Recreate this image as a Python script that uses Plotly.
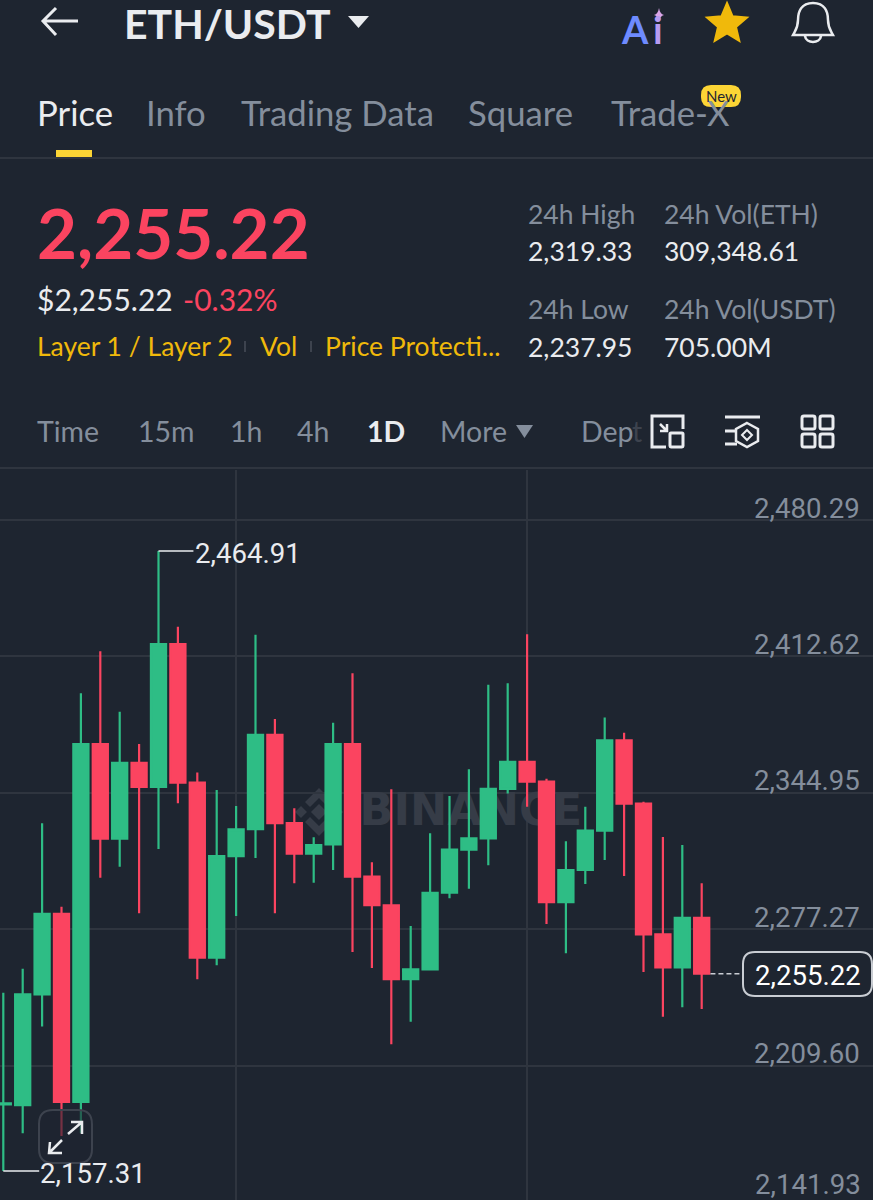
import re
import numpy as np
import plotly.graph_objects as go

W, H = 873, 1200
BG = "#1E2530"
GRID = "#2F353F"
UP = "#2EBD85"
DOWN = "#FB4460"
YELLOW = "#F0B90B"
MUTED = "#848E9C"
LIGHT = "#EAECEF"
UI_FONT = "Lato"
CHART_FONT = "Roboto"
CHART_SIZE = 27.6

# Data
days = list(range(37))
opens = [2190.4, 2190.0, 2245.0, 2284.9, 2191.6, 2369.2, 2322.2, 2359.8, 2347.9, 2418.7,
         2350.0, 2263.2, 2313.6, 2326.9, 2373.8, 2329.9, 2314.8, 2319.4, 2369.2, 2303.4,
         2289.2, 2252.6, 2257.4, 2295.4, 2316.8, 2322.4, 2346.9, 2360.4, 2350.5, 2290.8,
         2306.7, 2326.2, 2371.0, 2339.6, 2274.8, 2258.4, 2283.0]
highs = [2245.8, 2257.7, 2329.9, 2288.5, 2394.4, 2415.2, 2385.2, 2369.2, 2464.91, 2427.4,
         2355.0, 2346.4, 2338.4, 2423.4, 2381.6, 2337.3, 2322.9, 2379.8, 2404.3, 2310.5,
         2346.7, 2278.9, 2324.9, 2343.4, 2356.7, 2398.6, 2399.3, 2423.6, 2352.0, 2320.9,
         2338.1, 2382.4, 2374.8, 2340.6, 2323.1, 2319.1, 2300.1]
lows = [2157.31, 2176.1, 2229.0, 2174.7, 2176.2, 2302.9, 2308.3, 2285.2, 2317.1, 2339.8,
        2252.5, 2259.4, 2283.9, 2312.7, 2285.2, 2300.1, 2300.4, 2306.7, 2266.0, 2258.1,
        2220.2, 2231.4, 2257.0, 2292.7, 2297.4, 2309.0, 2344.7, 2338.1, 2279.9, 2265.4,
        2299.8, 2311.7, 2303.7, 2256.1, 2233.9, 2238.6, 2237.7]
closes = [2190.9, 2245.0, 2284.9, 2191.6, 2369.2, 2322.2, 2359.8, 2347.9, 2418.7, 2350.0,
          2263.2, 2313.6, 2326.9, 2373.8, 2329.9, 2314.8, 2319.1, 2369.2, 2303.4, 2289.2,
          2252.6, 2257.4, 2295.4, 2316.8, 2322.4, 2346.9, 2360.4, 2350.5, 2290.8, 2306.7,
          2326.2, 2371.0, 2339.6, 2274.8, 2258.4, 2283.0, 2255.22]
price_ticks = [2480.29, 2412.62, 2344.95, 2277.27, 2209.60]
bottom_tick = "2,141.93"
vgrid_days = [12, 27]
tabs = ["Price", "Info", "Trading Data", "Square", "Trade-X"]
tab_x = [36, 145, 240, 467, 610]
intervals = ["Time", "15m", "1h", "4h", "1D", "More", "Dep"]
interval_x = [36, 137, 229, 296, 366, 439, 580]

x_range = [-0.17, 44.83]
y_range = [2142.98, 2505.13]
y_domain = [0, 730 / H]


def pxpath(s):
    # turn a path written in screen pixels into paper coordinates
    out, is_x = [], True
    for tok in re.findall(r"[A-Za-z]|-?[\d.]+", s):
        if tok.isalpha():
            out.append(tok)
            is_x = True
        else:
            v = float(tok)
            out.append(f"{v / W:.5f}" if is_x else f"{1 - v / H:.5f}")
            is_x = not is_x
    return " ".join(out)


def rrect(x0, y0, x1, y1, r):
    return (f"M {x0 + r} {y0} L {x1 - r} {y0} Q {x1} {y0} {x1} {y0 + r} L {x1} {y1 - r} "
            f"Q {x1} {y1} {x1 - r} {y1} L {x0 + r} {y1} Q {x0} {y1} {x0} {y1 - r} "
            f"L {x0} {y0 + r} Q {x0} {y0} {x0 + r} {y0} Z")


shapes = []


def draw(s, line=None, width=2.5, fill=None, layer="above"):
    shapes.append(dict(type="path", xref="paper", yref="paper", path=pxpath(s), layer=layer,
                       fillcolor=fill or "rgba(0,0,0,0)",
                       line=dict(color=line or "rgba(0,0,0,0)", width=width if line else 0)))


annotations = []


def label(x, y, text, size=26.5, color=LIGHT, anchor="left", font=UI_FONT, weight="normal"):
    if font == UI_FONT:
        y -= 1
    annotations.append(dict(xref="paper", yref="paper", x=x / W, y=1 - y / H, text=text,
                            showarrow=False, xanchor=anchor, yanchor="middle", align=anchor,
                            borderpad=0,
                            font=dict(family=font, size=size, color=color, weight=weight)))


fig = go.Figure()

# watermark sits on the base axes so the candles cover it
fig.add_trace(go.Scatter(
    x=[24.1], y=[2334.5], mode="text", text=["BINANCE"], hoverinfo="skip", showlegend=False,
    textfont=dict(family="DejaVu Sans", size=44.5, color="#363C47", weight="bold"),
))

fig.add_trace(go.Candlestick(
    x=days, open=opens, high=highs, low=lows, close=closes,
    xaxis="x2", yaxis="y2", whiskerwidth=0, showlegend=False,
    increasing=dict(line=dict(color=UP, width=2.2), fillcolor=UP),
    decreasing=dict(line=dict(color=DOWN, width=2.2), fillcolor=DOWN),
))

# high / low leaders and last price guide
fig.add_trace(go.Scatter(x=[8, 9.8], y=[max(highs)] * 2, mode="lines", xaxis="x2", yaxis="y2",
                         line=dict(color=LIGHT, width=1.5), hoverinfo="skip", showlegend=False))
fig.add_trace(go.Scatter(x=[0, 1.85], y=[min(lows)] * 2, mode="lines", xaxis="x2", yaxis="y2",
                         line=dict(color=LIGHT, width=1.5), hoverinfo="skip", showlegend=False))
fig.add_trace(go.Scatter(x=[36.45, 38.2], y=[closes[-1]] * 2, mode="lines", xaxis="x2", yaxis="y2",
                         line=dict(color="#C9CDD3", width=1.5, dash="5px,3px"), hoverinfo="skip",
                         showlegend=False))

# header
draw("M 43 21 L 78 21 M 56 8 L 43 21 L 56 35", LIGHT, 3)
label(123, 24, "ETH/USDT", 41, LIGHT, weight="bold")
draw("M 348 16 L 369 16 L 358.5 28 Z", fill=LIGHT)
label(620, 30, "A", 38, "#6E8BFF", weight="bold")
label(652, 30, "i", 38, "#B79CF2", weight="bold")
draw("M 659 8 Q 660 14 664 15 Q 660 16 659 22 Q 658 16 654 15 Q 658 14 659 8 Z", fill="#D9A5E8")
star = []
for k in range(10):
    r = 21 if k % 2 == 0 else 9.5
    a = -np.pi / 2 + k * np.pi / 5
    star.append(f"{'M' if k == 0 else 'L'} {727 + r * np.cos(a):.1f} {24 + r * np.sin(a):.1f}")
draw(" ".join(star) + " Z", YELLOW, 2, fill=YELLOW)
draw("M 813 3 C 801 3 798 12 798 20 C 798 28 795 31 793 35 L 833 35 C 831 31 828 28 828 20 "
     "C 828 12 825 3 813 3 Z M 805 36 C 806 44 820 44 821 36", LIGHT, 2.5)

# tabs
for i, (name, x) in enumerate(zip(tabs, tab_x)):
    label(x, 113, name, 34.7, LIGHT if i == 0 else MUTED)
draw(rrect(701, 85, 741, 107, 10), fill="#FCD535")
label(721, 97, "New", 15, "#1E2530", anchor="center")
draw("M 56 150 L 92 150 L 92 157 L 56 157 Z", fill="#FCD535")
draw("M 0 158 L 873 158", GRID, 2)

# price block
label(36, 233, "2,255.22", 69, DOWN, weight="bold")
label(36, 300, "$2,255.22", 30, LIGHT)
label(182, 300, "-0.32%", 30, DOWN)
label(36, 347, "Layer 1 / Layer 2", 26.5, YELLOW)
label(259, 347, "Vol", 26.5, YELLOW)
label(324, 347, "Price Protecti...", 26.5, YELLOW)
draw("M 245 341 L 245 352 M 311 341 L 311 352", "#3D434E", 2)
for x, lines in [(527, ["24h High", "2,319.33", "24h Low", "2,237.95"]),
                 (663, ["24h Vol(ETH)", "309,348.61", "24h Vol(USDT)", "705.00M"])]:
    for j, (y, text) in enumerate(zip([215, 252, 310, 348], lines)):
        label(x, y, text, 26.5, MUTED if j % 2 == 0 else LIGHT)

# interval row
for name, x in zip(intervals, interval_x):
    label(x, 432, name, 28.5, LIGHT if name == "1D" else MUTED, weight="bold" if name == "1D" else "normal")
label(631, 432, "t", 28.5, "#3D434E")
draw("M 516 425 L 533 425 L 524.5 438 Z", fill=MUTED)
draw("M 666 447 L 652 447 L 652 416 L 683 416 L 683 429", LIGHT, 3)
draw(rrect(670, 433, 683, 447, 1), LIGHT, 3)
draw("M 660 424 L 667 431 M 667 424 L 667 431 L 660 431", LIGHT, 2.5)
draw("M 725 417 L 760 417 M 725 431 L 737 431 M 725 444 L 737 444", LIGHT, 3)
draw("M 747 423 L 758 429 L 758 441 L 747 447 L 736 441 L 736 429 Z", LIGHT, 2.5)
draw("M 747 430 L 752 435 L 747 440 L 742 435 Z", LIGHT, 2)
for x0 in (802, 820):
    for y0 in (416, 434):
        draw(rrect(x0, y0, x0 + 13, y0 + 13, 2), LIGHT, 3)
draw("M 0 468 L 873 468", GRID, 2)

# chart labels
label(194, 553, f"{max(highs):,.2f}", CHART_SIZE, LIGHT, font=CHART_FONT)
label(39, 1173, f"{min(lows):,.2f}", CHART_SIZE, LIGHT, font=CHART_FONT)
for p in price_ticks:
    annotations.append(dict(xref="paper", yref="y", x=861.5 / W, y=p, yshift=12, text=f"{p:,.2f}",
                            showarrow=False, xanchor="right", yanchor="middle",
                            font=dict(family=CHART_FONT, size=CHART_SIZE, color=MUTED)))
label(861.5, 1184, bottom_tick, CHART_SIZE, MUTED, anchor="right", font=CHART_FONT)

# last price box
draw(rrect(743, 952, 872, 996, 12), "#C9CDD3", 2, fill=BG)
label(808, 975, f"{closes[-1]:,.2f}", CHART_SIZE, "#FFFFFF", anchor="center", font=CHART_FONT)

# expand button
draw(rrect(39, 1110, 92, 1163, 14), "#3D434E", 2, fill="rgba(30,37,48,0.6)")
draw("M 68 1134 L 82 1122 M 71 1122 L 82 1122 L 82 1134 M 62 1140 L 49 1153 M 50 1142 L 49 1153 L 62 1153", LIGHT, 2.5)

# watermark logo
cx, cy = 319, 812
draw(f"M {cx - 14} {cy - 10} L {cx} {cy - 24} L {cx + 14} {cy - 10} L {cx + 9} {cy - 5} L {cx} {cy - 14} L {cx - 9} {cy - 5} Z "
     f"M {cx - 14} {cy + 10} L {cx} {cy + 24} L {cx + 14} {cy + 10} L {cx + 9} {cy + 5} L {cx} {cy + 14} L {cx - 9} {cy + 5} Z "
     f"M {cx} {cy - 8} L {cx + 8} {cy} L {cx} {cy + 8} L {cx - 8} {cy} Z "
     f"M {cx - 18} {cy - 6} L {cx - 12} {cy} L {cx - 18} {cy + 6} L {cx - 24} {cy} Z "
     f"M {cx + 18} {cy - 6} L {cx + 24} {cy} L {cx + 18} {cy + 6} L {cx + 12} {cy} Z",
     fill="#363C47", layer="below")

fig.update_layout(
    width=W, height=H, margin=dict(l=0, r=0, t=0, b=0, pad=0),
    paper_bgcolor=BG, plot_bgcolor=BG, showlegend=False, hovermode=False,
    boxgap=0.22, boxgroupgap=0, shapes=shapes, annotations=annotations,
    xaxis=dict(range=x_range, tickvals=vgrid_days, showticklabels=False, showgrid=True,
               gridcolor=GRID, gridwidth=1.5, zeroline=False, showline=False, ticks="",
               rangeslider=dict(visible=False), fixedrange=True),
    yaxis=dict(domain=y_domain, range=y_range, side="right", tickvals=price_ticks,
               showticklabels=False, showgrid=True, gridcolor=GRID, gridwidth=1.5,
               zeroline=False, showline=False, ticks="", fixedrange=True),
    xaxis2=dict(range=x_range, overlaying="x", visible=False, anchor="y2",
                rangeslider=dict(visible=False), fixedrange=True),
    yaxis2=dict(domain=y_domain, range=y_range, overlaying="y", visible=False, anchor="x2",
                fixedrange=True),
)

# the default page leaves an 8px body margin
fig.write_html("out.html", config={"displayModeBar": False},
               post_script="document.body.style.margin='0';")
